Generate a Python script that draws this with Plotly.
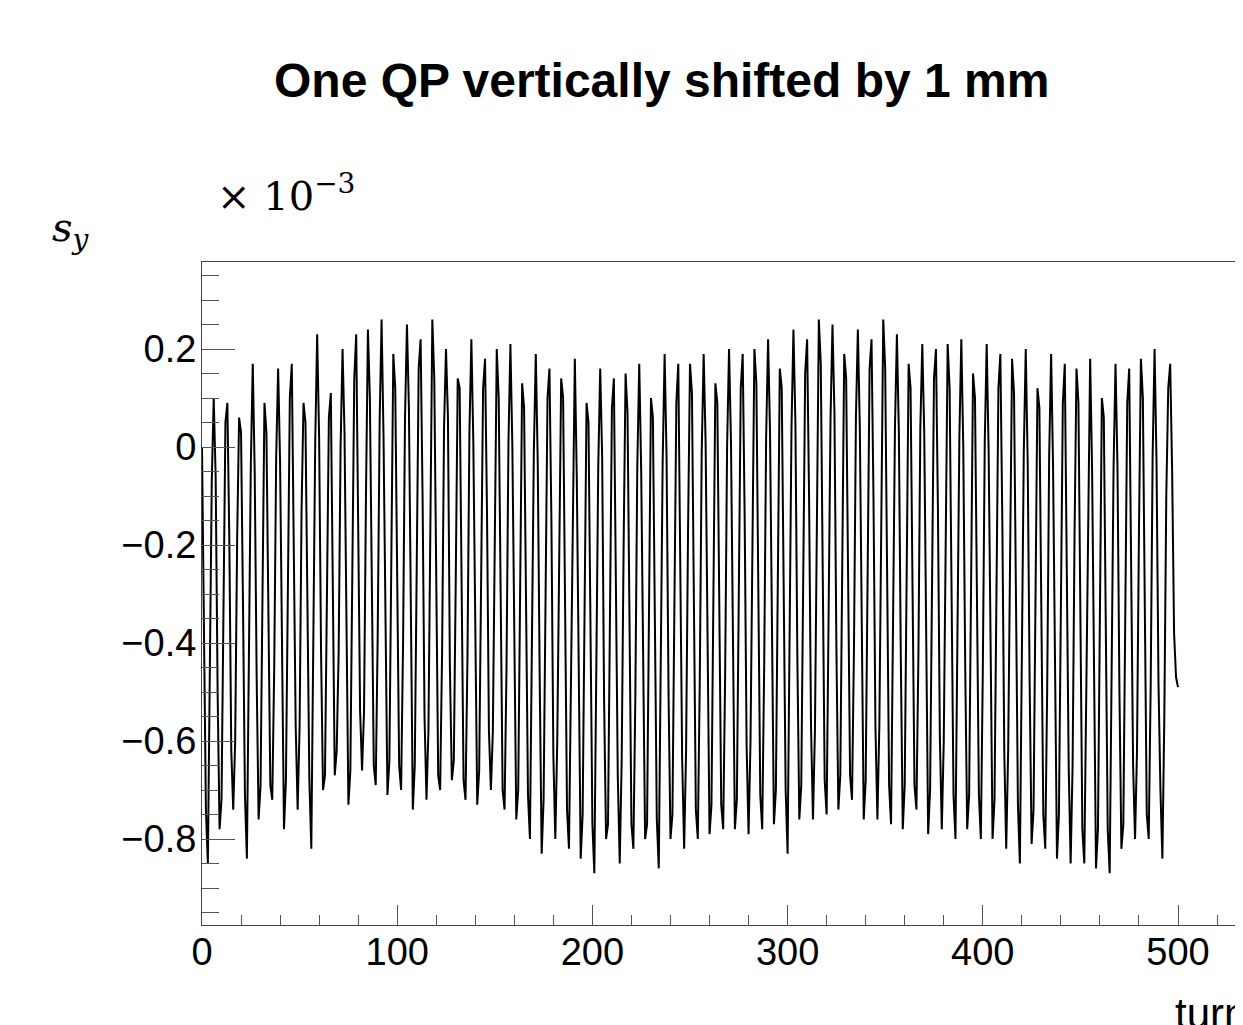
import plotly.graph_objects as go

# s_y per turn, in units of 1e-3
turns = list(range(0, 501))
sy_e3 = [
    0.00, -0.33, -0.74, -0.85, -0.47, -0.07, 0.10, -0.06, -0.50, -0.78,
    -0.72, -0.34, 0.05, 0.09, -0.19, -0.62, -0.74, -0.60, -0.19, 0.06,
    0.03, -0.32, -0.71, -0.84, -0.47, -0.04, 0.17, -0.05, -0.47, -0.76,
    -0.69, -0.30, 0.09, 0.03, -0.30, -0.69, -0.72, -0.45, -0.02, 0.16,
    -0.03, -0.44, -0.78, -0.68, -0.29, 0.10, 0.17, -0.14, -0.57, -0.74,
    -0.57, -0.13, 0.09, 0.05, -0.28, -0.68, -0.82, -0.43, 0.01, 0.23,
    0.02, -0.42, -0.70, -0.67, -0.27, 0.06, 0.11, -0.27, -0.67, -0.62,
    -0.42, 0.00, 0.20, 0.03, -0.41, -0.73, -0.66, -0.26, 0.14, 0.23,
    -0.10, -0.54, -0.66, -0.54, -0.10, 0.24, 0.10, -0.25, -0.65, -0.69,
    -0.39, 0.05, 0.26, 0.02, -0.39, -0.71, -0.64, -0.24, 0.19, 0.12,
    -0.24, -0.65, -0.70, -0.40, 0.06, 0.25, 0.08, -0.36, -0.74, -0.65,
    -0.25, 0.16, 0.22, -0.10, -0.55, -0.72, -0.58, -0.12, 0.26, 0.14,
    -0.26, -0.67, -0.70, -0.42, 0.04, 0.20, 0.06, -0.45, -0.68, -0.64,
    -0.27, 0.14, 0.12, -0.27, -0.68, -0.72, -0.43, 0.03, 0.22, 0.01,
    -0.44, -0.73, -0.66, -0.28, 0.12, 0.18, -0.13, -0.58, -0.70, -0.58,
    -0.13, 0.20, 0.10, -0.29, -0.70, -0.74, -0.45, 0.01, 0.21, 0.00,
    -0.46, -0.76, -0.70, -0.30, 0.13, 0.08, -0.30, -0.71, -0.80, -0.46,
    -0.01, 0.19, -0.03, -0.47, -0.83, -0.72, -0.31, 0.10, 0.16, -0.15,
    -0.63, -0.80, -0.60, -0.17, 0.14, 0.10, -0.33, -0.74, -0.82, -0.49,
    -0.04, 0.18, -0.06, -0.50, -0.84, -0.75, -0.34, 0.09, 0.05, -0.34,
    -0.77, -0.87, -0.51, -0.04, 0.16, -0.02, -0.52, -0.80, -0.77, -0.35,
    0.08, 0.14, -0.20, -0.67, -0.85, -0.64, -0.20, 0.15, 0.07, -0.36,
    -0.77, -0.82, -0.51, -0.04, 0.17, -0.05, -0.50, -0.80, -0.77, -0.35,
    0.10, 0.06, -0.34, -0.76, -0.86, -0.50, -0.03, 0.19, -0.02, -0.50,
    -0.80, -0.75, -0.33, 0.09, 0.17, -0.17, -0.64, -0.82, -0.62, -0.17,
    0.17, 0.11, -0.32, -0.74, -0.80, -0.48, -0.01, 0.19, 0.01, -0.48,
    -0.79, -0.73, -0.31, 0.13, 0.09, -0.31, -0.73, -0.78, -0.47, 0.00,
    0.20, 0.01, -0.46, -0.78, -0.72, -0.30, 0.12, 0.19, -0.14, -0.61,
    -0.79, -0.60, -0.13, 0.20, 0.13, -0.29, -0.71, -0.78, -0.45, 0.02,
    0.22, 0.03, -0.44, -0.77, -0.70, -0.28, 0.16, 0.12, -0.28, -0.70,
    -0.83, -0.43, 0.04, 0.24, 0.05, -0.43, -0.76, -0.69, -0.27, 0.15,
    0.22, -0.10, -0.57, -0.76, -0.58, -0.10, 0.26, 0.17, -0.26, -0.68,
    -0.75, -0.41, 0.06, 0.25, 0.07, -0.41, -0.74, -0.67, -0.25, 0.19,
    0.14, -0.25, -0.67, -0.72, -0.41, 0.06, 0.24, 0.04, -0.41, -0.76,
    -0.68, -0.26, 0.16, 0.22, -0.10, -0.57, -0.76, -0.57, -0.08, 0.26,
    0.16, -0.27, -0.69, -0.77, -0.43, 0.04, 0.23, 0.03, -0.43, -0.78,
    -0.69, -0.27, 0.17, 0.12, -0.27, -0.69, -0.74, -0.43, 0.04, 0.21,
    0.03, -0.44, -0.79, -0.70, -0.28, 0.14, 0.20, -0.12, -0.59, -0.78,
    -0.60, -0.13, 0.21, 0.12, -0.29, -0.71, -0.80, -0.45, 0.02, 0.22,
    0.00, -0.45, -0.78, -0.71, -0.29, 0.15, 0.10, -0.29, -0.71, -0.80,
    -0.46, 0.01, 0.21, -0.01, -0.46, -0.80, -0.72, -0.30, 0.12, 0.19,
    -0.15, -0.62, -0.82, -0.62, -0.15, 0.18, 0.11, -0.31, -0.73, -0.85,
    -0.48, -0.01, 0.20, -0.03, -0.48, -0.81, -0.74, -0.32, 0.12, 0.08,
    -0.33, -0.75, -0.82, -0.49, -0.02, 0.19, -0.04, -0.49, -0.84, -0.75,
    -0.34, 0.09, 0.17, -0.18, -0.65, -0.85, -0.65, -0.18, 0.16, 0.09,
    -0.35, -0.78, -0.85, -0.51, -0.04, 0.18, -0.05, -0.51, -0.86, -0.78,
    -0.35, 0.10, 0.06, -0.35, -0.78, -0.87, -0.51, -0.04, 0.17, -0.04,
    -0.50, -0.82, -0.77, -0.34, 0.09, 0.16, -0.18, -0.65, -0.80, -0.62,
    -0.17, 0.18, 0.10, -0.33, -0.75, -0.80, -0.49, -0.02, 0.20, -0.03,
    -0.48, -0.70, -0.84, -0.55, -0.10, 0.12, 0.17, -0.05, -0.38, -0.47, -0.49,
]

title_text = "One QP vertically shifted by 1 mm"
sans = "Liberation Sans, Arial, sans-serif"
serif = "DejaVu Serif, Liberation Serif, serif"

fig = go.Figure()
fig.add_trace(go.Scatter(x=turns, y=sy_e3, mode="lines",
                         line=dict(color="black", width=2),
                         showlegend=False))

# the page has an 8 px body margin, so the frame runs past the right edge
fig.update_layout(
    width=1243, height=1025,
    margin=dict(l=194, r=0, t=254, b=108),
    paper_bgcolor="white", plot_bgcolor="white",
    font=dict(family=sans, size=38, color="black"),
    xaxis=dict(
        range=[0, 537.4], showgrid=False, zeroline=False,
        showline=True, linecolor="#444", linewidth=1, mirror=True,
        ticks="inside", ticklen=20, tickcolor="#555", tickwidth=1,
        tick0=0, dtick=100, ticklabelstandoff=-7,
        minor=dict(ticks="inside", ticklen=10, dtick=20, tickcolor="#555", tickwidth=1),
    ),
    yaxis=dict(
        range=[-0.9755, 0.3776], showgrid=False, zeroline=False,
        showline=True, linecolor="#444", linewidth=1,
        ticks="inside", ticklen=33, tickcolor="#555", tickwidth=1,
        tick0=0, dtick=0.2, ticklabelstandoff=-3,
        minor=dict(ticks="inside", ticklen=17, dtick=0.05, tickcolor="#555", tickwidth=1),
    ),
)

fig.add_annotation(text="<b>" + title_text + "</b>", xref="paper", yref="paper",
                   x=0.4376, y=1.2745, xanchor="center", yanchor="middle",
                   showarrow=False, font=dict(family=sans, size=48))
fig.add_annotation(text="<i>s</i><sub><i>y</i></sub>", xref="paper", yref="paper",
                   x=-0.1249, y=1.048, xanchor="center", yanchor="middle",
                   showarrow=False, font=dict(family=serif, size=40))
fig.add_annotation(text="× 10<sup>−3</sup>", xref="paper", yref="paper",
                   x=0.0124, y=1.104, xanchor="left", yanchor="middle",
                   showarrow=False, font=dict(family=serif, size=40))
fig.add_annotation(text="turn", xref="paper", yref="paper",
                   x=0.9257, y=-0.095, xanchor="left", yanchor="top",
                   showarrow=False, font=dict(family=sans, size=42))

fig.write_html("out.html")
